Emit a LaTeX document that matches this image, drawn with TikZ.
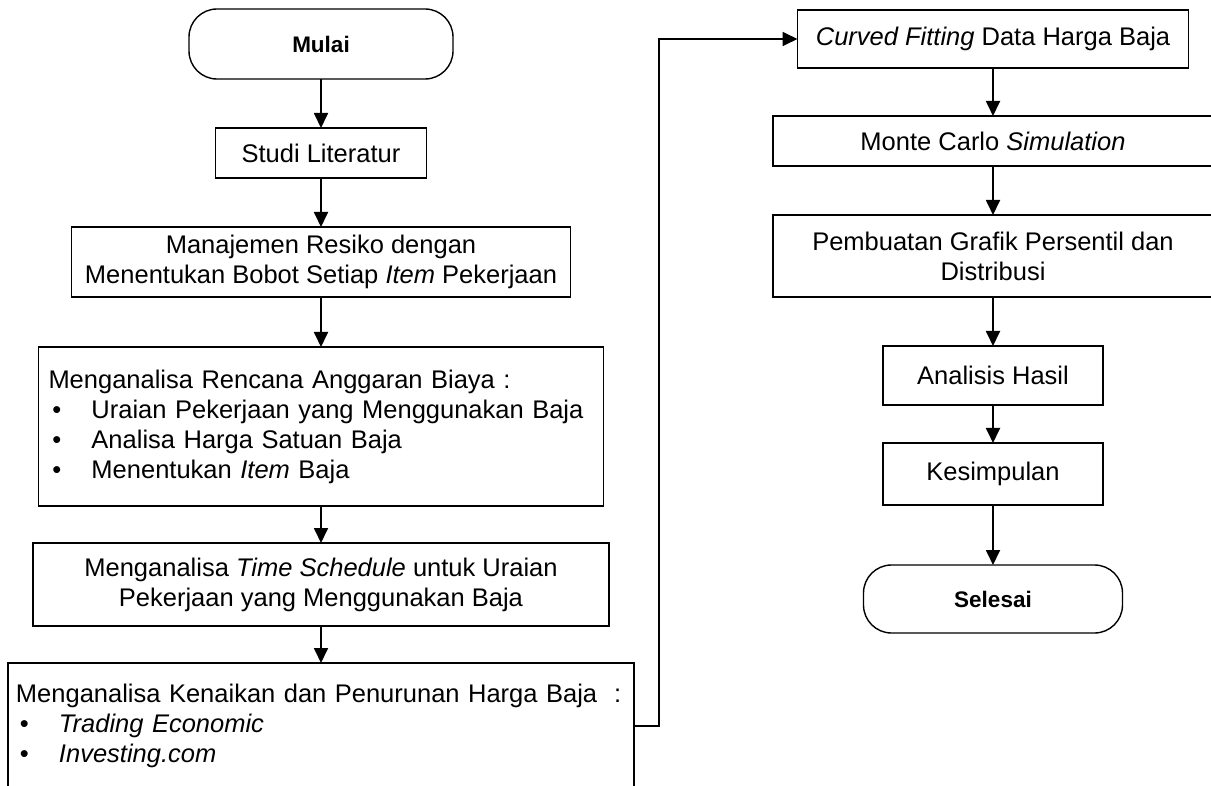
\documentclass[tikz,border=0pt]{standalone}
\usepackage{fontspec}
\setmainfont{Liberation Sans}
\usetikzlibrary{arrows.meta}
\newcommand{\bul}{\hspace*{4pt}\makebox[39pt][l]{\textbullet}}
\begin{document}
\begin{tikzpicture}[x=1pt,y=-1pt,
  box/.style={draw, line width=1.4pt, fill=white, inner sep=0pt, outer sep=0pt, align=center, font=\fontsize{25.5}{30}\selectfont},
  term/.style={box, rounded corners=28pt, font=\fontsize{22.5}{27}\selectfont\bfseries},
  arr/.style={line width=1.8pt, -{Triangle[width=14pt,length=15pt]}}]
\useasboundingbox (0,0) rectangle (1211,786);

% left column
\node[term, minimum width=264pt, minimum height=70pt] (mulai) at (321,44) {Mulai};
\node[box, minimum width=211pt, minimum height=50pt] (studi) at (321,153) {Studi Literatur};
\node[box, minimum width=499pt, minimum height=70pt] (manaj) at (321,262) {Manajemen Resiko dengan\\Menentukan Bobot Setiap \textit{Item} Pekerjaan};
\node[box, minimum width=565pt, minimum height=159pt, text width=545pt, align=left] (rab) at (321,426.5) {Menganalisa Rencana Anggaran Biaya :\\
\bul Uraian Pekerjaan yang Menggunakan Baja\\
\bul Analisa Harga Satuan Baja\\
\bul Menentukan \textit{Item} Baja};
\node[box, minimum width=576pt, minimum height=83pt] (time) at (321,584.5) {Menganalisa \textit{Time Schedule} untuk Uraian\\Pekerjaan yang Menggunakan Baja};
\node[box, minimum width=626pt, minimum height=126pt, text width=610pt, align=left] (naik) at (321,726) {Menganalisa Kenaikan dan Penurunan Harga Baja\ \ :\\
\bul \textit{Trading Economic}\\
\bul \textit{Investing.com}};

% right column
\node[box, minimum width=391pt, minimum height=58pt] (curved) at (993,39) {\textit{Curved Fitting} Data Harga Baja};
\node[box, minimum width=440pt, minimum height=50pt] (monte) at (993,141) {Monte Carlo \textit{Simulation}};
\node[box, minimum width=440pt, minimum height=82pt] (grafik) at (993,256) {Pembuatan Grafik Persentil dan\\Distribusi};
\node[box, minimum width=220pt, minimum height=59pt] (hasil) at (993,375.5) {Analisis Hasil};
\node[box, minimum width=220pt, minimum height=62pt] (kes) at (993,474) {Kesimpulan};
\node[term, minimum width=259pt, minimum height=68pt] (selesai) at (993,599) {Selesai};

% connectors
\draw[arr] (mulai) -- (studi);
\draw[arr] (studi) -- (manaj);
\draw[arr] (manaj) -- (rab);
\draw[arr] (rab) -- (time);
\draw[arr] (time) -- (naik);
\draw[arr] (naik.east) -- ++(25,0) |- (curved.west);
\draw[arr] (curved) -- (monte);
\draw[arr] (monte) -- (grafik);
\draw[arr] (grafik) -- (hasil);
\draw[arr] (hasil) -- (kes);
\draw[arr] (kes) -- (selesai);
\end{tikzpicture}
\end{document}
